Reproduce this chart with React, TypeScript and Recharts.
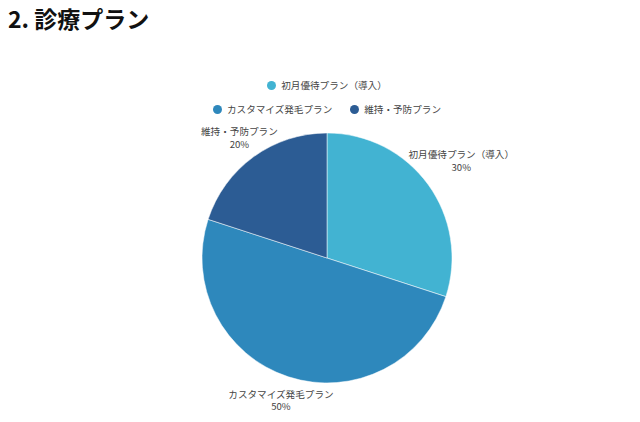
import { PieChart, Pie, Cell } from "recharts";

const plans = ["初月優待プラン（導入）", "カスタマイズ発毛プラン", "維持・予防プラン"];
const shares = [30, 50, 20];
const colors = ["#42B3D2", "#2E88BC", "#2C5C94"];
const legendRows = [[0], [1, 2]];

const data = plans.map((name, i) => ({ name, value: shares[i] }));

const FONT = '"Noto Sans CJK JP", "Noto Sans", sans-serif';
const RAD = Math.PI / 180;

const renderLabel = (props: any) => {
  const { cx, cy, midAngle, outerRadius, name, value } = props;
  const c = Math.cos(-midAngle * RAD);
  const s = Math.sin(-midAngle * RAD);
  // wide labels on the right sit a bit further out
  const r = outerRadius + 24 + (c > 0 ? 17 : 0);
  const x = cx + r * c;
  const y = cy + r * s;
  return (
    <text x={x} y={y} textAnchor="middle" fill="#444" fontSize={9.6} fontFamily={FONT}>
      <tspan x={x} dy={-2}>{name}</tspan>
      <tspan x={x} dy={12.5}>{value}%</tspan>
    </text>
  );
};

const ChartLegend = () => (
  <div
    style={{
      position: "absolute",
      left: 0,
      top: 73,
      width: 654,
      fontFamily: FONT,
      fontSize: 9.6,
      color: "#444",
    }}
  >
    {legendRows.map((row, ri) => (
      <div key={ri} style={{ display: "flex", justifyContent: "center", gap: 18, height: 24, alignItems: "center" }}>
        {row.map((i) => (
          <div key={i} style={{ display: "flex", alignItems: "center", gap: 5 }}>
            <span style={{ width: 9, height: 9, borderRadius: "50%", background: colors[i], display: "inline-block" }} />
            <span>{plans[i]}</span>
          </div>
        ))}
      </div>
    ))}
  </div>
);

const App = () => {
  return (
    <div style={{ position: "absolute", left: 0, top: 0, width: 640, height: 422, background: "#fff" }}>
      <div
        style={{
          position: "absolute",
          left: 8,
          top: 3,
          fontFamily: FONT,
          fontWeight: 700,
          fontSize: 23,
          color: "#111",
          lineHeight: "30px",
        }}
      >
        2. 診療プラン
      </div>
      <ChartLegend />
      <div style={{ position: "absolute", left: 0, top: 0 }}>
        <PieChart width={640} height={422} margin={{ top: 0, right: 0, bottom: 0, left: 0 }}>
          <Pie
            data={data}
            dataKey="value"
            nameKey="name"
            cx={327}
            cy={258}
            outerRadius={125}
            startAngle={90}
            endAngle={-270}
            stroke="#fff"
            strokeWidth={0.5}
            label={renderLabel}
            labelLine={false}
            isAnimationActive={false}
          >
            {data.map((d, i) => (
              <Cell key={d.name} fill={colors[i]} />
            ))}
          </Pie>
        </PieChart>
      </div>
    </div>
  );
};

export default App;
